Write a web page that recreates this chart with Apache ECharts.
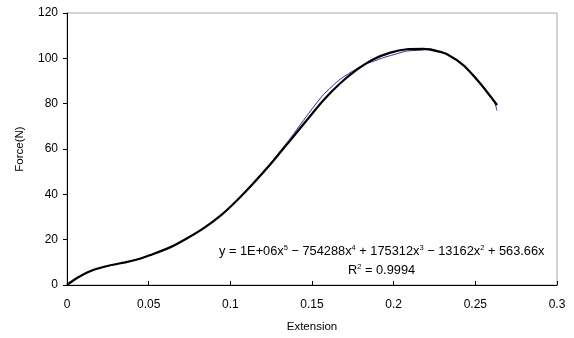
<!DOCTYPE html>
<html>
<head>
<meta charset="utf-8">
<script src="https://cdn.jsdelivr.net/npm/echarts@6/dist/echarts.min.js"></script>
<style>
  html, body { margin: 0; padding: 0; background: #fff; }
  #chart { width: 574px; height: 338px; }
</style>
</head>
<body>
<div id="chart"></div>
<script>
// measured curve (blue, thin)
const dataX = [0, 0.004, 0.008, 0.016, 0.026, 0.037, 0.045, 0.051, 0.063, 0.0725, 0.0835, 0.094, 0.104, 0.114, 0.124, 0.1325, 0.1366, 0.1469, 0.157, 0.1673, 0.1775, 0.183, 0.1877, 0.1937, 0.198, 0.208, 0.2183, 0.222, 0.2275, 0.2327, 0.2428, 0.253, 0.2615, 0.2633]
const dataY = [0, 2.1, 3.9, 6.6, 8.6, 10.2, 11.6, 13.1, 16.5, 20.1, 24.9, 30.5, 37.3, 44.9, 53.2, 60.8, 64.6, 74.7, 84.0, 90.8, 95.5, 97.6, 98.7, 100.3, 101.2, 103.2, 103.7, 104.3, 103.2, 101.8, 97.0, 89.3, 81.0, 76.9]

// 5th-order polynomial trendline (black, thick)
const fitX = [0, 0.004, 0.008, 0.016, 0.026, 0.037, 0.045, 0.051, 0.063, 0.0725, 0.0835, 0.094, 0.104, 0.114, 0.124, 0.1325, 0.1366, 0.1469, 0.157, 0.1673, 0.1775, 0.1877, 0.198, 0.208, 0.2183, 0.2265, 0.2327, 0.2428, 0.253, 0.2633]
const fitY = [0, 2.1, 3.9, 6.6, 8.6, 10.2, 11.7, 13.2, 16.6, 20.2, 25.0, 30.6, 37.3, 44.8, 52.8, 60.2, 63.7, 72.8, 81.5, 89.0, 95.0, 99.6, 102.5, 104.0, 104.2, 103.2, 101.8, 96.9, 88.9, 79.4]

const xTicks = { min: 0, max: 0.3, interval: 0.05 }
const yTicks = { min: 0, max: 120, interval: 20 }

const FONT = 'Liberation Sans, Arial, sans-serif'

const chart = echarts.init(document.getElementById('chart'), null, { renderer: 'canvas' })

const pairs = (xs, ys) => xs.map((x, i) => [x, ys[i]])

const option = {
  animation: false,
  backgroundColor: '#fff',
  grid: {
    left: 67, top: 13, right: 17, bottom: 51,
    show: true, borderColor: '#a8a8a8', borderWidth: 1
  },
  xAxis: {
    type: 'value',
    min: xTicks.min, max: xTicks.max, interval: xTicks.interval,
    name: 'Extension',
    nameLocation: 'middle',
    nameGap: 36,
    nameTextStyle: { fontFamily: FONT, fontSize: 11.5, color: '#000' },
    axisLine: { show: true, lineStyle: { color: '#000', width: 1 } },
    axisTick: { show: true, inside: true, length: 4, lineStyle: { color: '#000' } },
    axisLabel: { fontFamily: FONT, fontSize: 12, color: '#000', margin: 14 },
    splitLine: { show: false }
  },
  yAxis: {
    type: 'value',
    min: yTicks.min, max: yTicks.max, interval: yTicks.interval,
    name: 'Force(N)',
    nameLocation: 'middle',
    nameGap: 41,
    nameTextStyle: { fontFamily: FONT, fontSize: 11.5, color: '#000' },
    axisLine: { show: true, lineStyle: { color: '#000', width: 1 } },
    axisTick: { show: true, inside: false, length: 4, lineStyle: { color: '#000' } },
    axisLabel: { fontFamily: FONT, fontSize: 12, color: '#000', margin: 9 },
    splitLine: { show: false }
  },
  series: [
    {
      type: 'line',
      data: pairs(dataX, dataY),
      showSymbol: false,
      smooth: 0.2,
      lineStyle: { color: '#2a2aa8', width: 1 },
      z: 2
    },
    {
      type: 'line',
      data: pairs(fitX, fitY),
      showSymbol: false,
      smooth: 0.25,
      lineStyle: { color: '#000', width: 2.2 },
      z: 3
    }
  ],
  graphic: [
    {
      type: 'text',
      left: 219,
      top: 244,
      style: {
        text: 'y = 1E+06x{s|5} − 754288x{s|4} + 175312x{s|3} − 13162x{s|2} + 563.66x',
        fontFamily: FONT,
        fontSize: 12.8,
        fill: '#000',
        rich: {
          s: { fontSize: 7.5, verticalAlign: 'top', padding: [0, 0, 7, 0], fontFamily: FONT }
        }
      }
    },
    {
      type: 'text',
      left: 348,
      top: 263,
      style: {
        text: 'R{s|2} = 0.9994',
        fontFamily: FONT,
        fontSize: 12.8,
        fill: '#000',
        rich: {
          s: { fontSize: 7.5, verticalAlign: 'top', padding: [0, 0, 7, 0], fontFamily: FONT }
        }
      }
    }
  ]
}

chart.setOption(option)
</script>
</body>
</html>
